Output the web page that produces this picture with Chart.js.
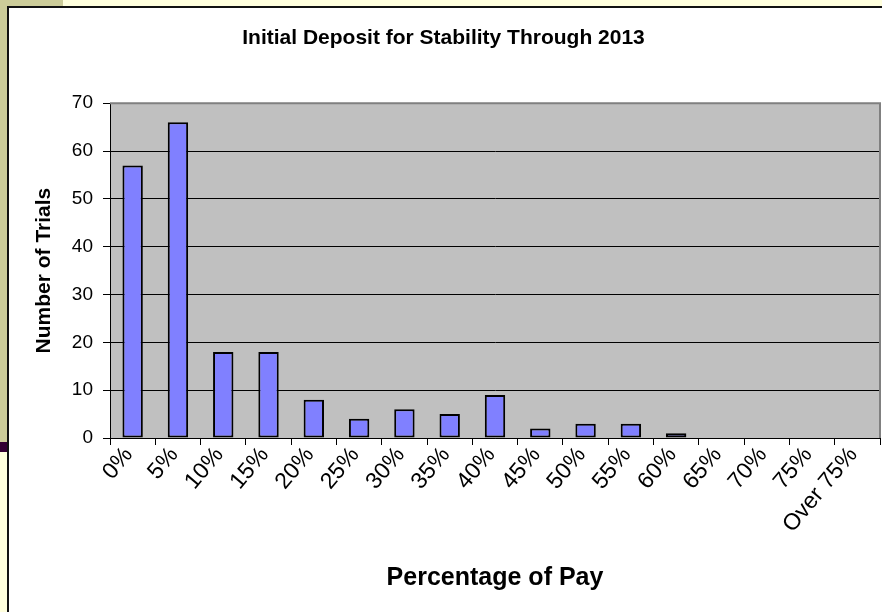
<!DOCTYPE html>
<html>
<head>
<meta charset="utf-8">
<script src="https://cdn.jsdelivr.net/npm/chart.js@4"></script>
<style>
  html, body { margin: 0; padding: 0; }
  body { width: 882px; height: 612px; overflow: hidden; position: relative; background: #ffffdd; }
  #olive-top { position: absolute; left: 0; top: 0; width: 63px; height: 7px; background: #cccc99; }
  #olive-left { position: absolute; left: 0; top: 0; width: 7px; height: 442px; background: #cccc99; }
  #purple { position: absolute; left: 0; top: 442px; width: 7px; height: 10px; background: #330033; }
  #box { position: absolute; left: 7px; top: 6px; width: 900px; height: 620px; background: #fff;
         border-top: 2px solid #111; border-left: 2px solid #111; box-sizing: border-box; }
  #chart { position: absolute; left: 7px; top: 0; }
</style>
</head>
<body>
<div id="olive-top"></div>
<div id="olive-left"></div>
<div id="purple"></div>
<div id="box"></div>
<canvas id="chart" width="882" height="612"></canvas>
<script>
// 入金率ごとの試行回数
const categories = ["0%", "5%", "10%", "15%", "20%", "25%", "30%", "35%", "40%", "45%",
  "50%", "55%", "60%", "65%", "70%", "75%", "Over 75%"];
const trials = [57, 66, 18, 18, 8, 4, 6, 5, 9, 2, 3, 3, 1, 0, 0, 0, 0];
const yMax = 70;
const yStep = 10;

const FONT = "'Liberation Sans', Arial, sans-serif";

// プロットエリアの灰色背景と枠線
const plotArea = {
  id: "plotArea",
  beforeDraw(chart) {
    const { ctx, chartArea: a } = chart;
    ctx.save();
    ctx.fillStyle = "#c0c0c0";
    ctx.fillRect(a.left, a.top, a.right - a.left, a.bottom - a.top);
    ctx.restore();
  },
  beforeDatasetsDraw(chart) {
    const { ctx, chartArea: a } = chart;
    ctx.save();
    ctx.strokeStyle = "#808080";
    ctx.lineWidth = 2;
    ctx.beginPath();
    ctx.moveTo(a.left, a.top);
    ctx.lineTo(a.right, a.top);
    ctx.lineTo(a.right, a.bottom);
    ctx.stroke();
    ctx.restore();
  }
};

new Chart(document.getElementById("chart").getContext("2d"), {
  type: "bar",
  data: {
    labels: categories,
    datasets: [{
      label: "Number of Trials",
      data: trials,
      backgroundColor: "#8080ff",
      borderColor: "#000",
      borderWidth: 2,
      borderSkipped: false,
      barPercentage: 0.45,
      categoryPercentage: 1.0
    }]
  },
  options: {
    responsive: false,
    animation: false,
    layout: { padding: { left: 0, right: 9, top: 0, bottom: 0 } },
    plugins: {
      legend: { display: false },
      tooltip: { enabled: false },
      title: {
        display: true,
        text: "Initial Deposit for Stability Through 2013",
        color: "#000",
        font: { family: FONT, size: 21, weight: "bold" },
        padding: { top: 26, bottom: 52 }
      }
    },
    scales: {
      x: {
        grid: { offset: true, drawOnChartArea: false, drawTicks: true, tickLength: 7, tickColor: "#000" },
        border: { color: "#000", width: 1 },
        ticks: {
          color: "#000",
          font: { family: FONT, size: 23 },
          minRotation: 50,
          maxRotation: 50,
          autoSkip: false,
          padding: -3,
          labelOffset: -4
        },
        title: {
          display: true,
          text: "Percentage of Pay",
          color: "#000",
          font: { family: FONT, size: 25, weight: "bold" },
          padding: { top: 0, bottom: 19 }
        },
        afterFit(scale) { scale.height = 174; }
      },
      y: {
        min: 0,
        max: yMax,
        grid: {
          color: ctx => ctx.tick && ctx.tick.value === yMax ? "#808080" : "#000",
          lineWidth: 1,
          drawTicks: true,
          tickLength: 7,
          tickColor: "#000"
        },
        border: { color: "#000", width: 1 },
        ticks: {
          stepSize: yStep,
          color: "#000",
          font: { family: FONT, size: 19 },
          padding: 10
        },
        title: {
          display: true,
          text: "Number of Trials",
          color: "#000",
          font: { family: FONT, size: 21, weight: "bold" },
          padding: { top: 25, bottom: 0 }
        },
        afterFit(scale) { scale.width = 103; }
      }
    }
  },
  plugins: [plotArea]
});
</script>
</body>
</html>
